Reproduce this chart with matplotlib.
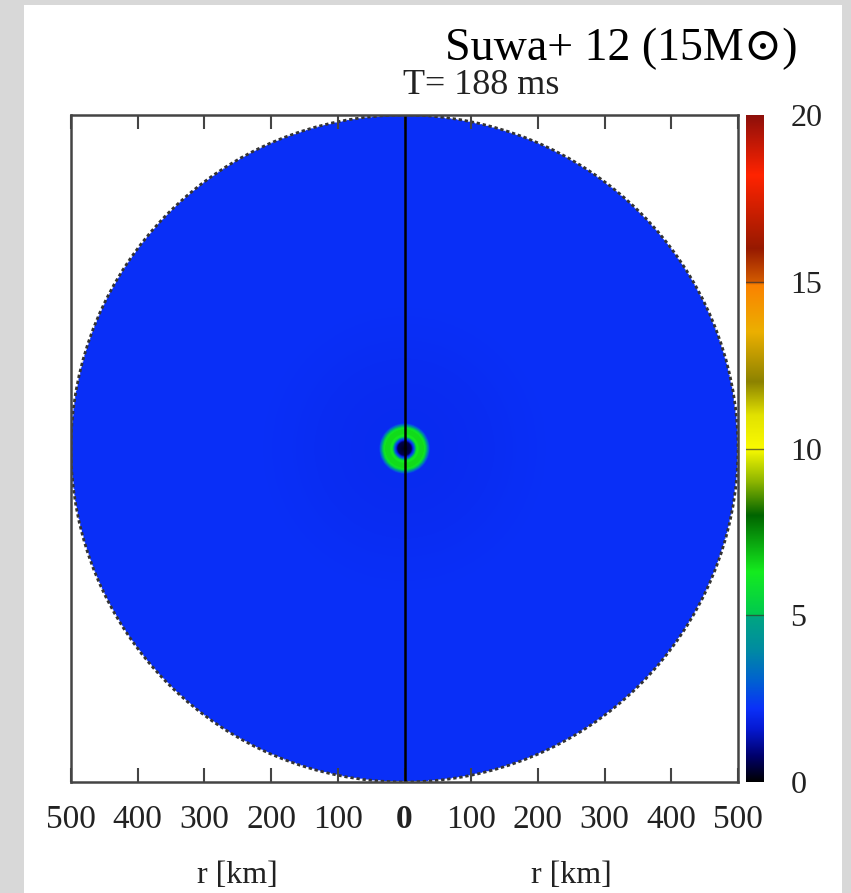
import numpy as np
import matplotlib
matplotlib.use('Agg')
import matplotlib.pyplot as plt
from matplotlib.colors import LinearSegmentedColormap
from matplotlib.patches import Circle, Rectangle

# radial profile of the entropy-like quantity (km -> value)
radius_km = [0, 10, 14, 18, 22, 29, 33, 38, 60, 120, 175, 230, 500]
profile_val = [0.2, 0.6, 2.6, 6.0, 6.5, 6.5, 5.0, 2.08, 2.08, 2.11, 2.16, 2.2, 2.2]
r_max = 500
time_ms = 188
x_ticks = [-500, -400, -300, -200, -100, 0, 100, 200, 300, 400, 500]
cbar_ticks = [0, 5, 10, 15, 20]
vmin, vmax = 0, 20

# gnuplot-like palette with breaks at 5, 10, 15
pal_pos = [0, 0.8, 1.6, 2.2, 3.0, 4.0, 4.95, 5.0, 6.3, 8.0, 9.0, 10.0,
           11.0, 12.0, 13.5, 14.9, 15.0, 16.0, 18.2, 20.0]
pal_rgb = [(0, 0, 0), (0, 0, 110), (5, 25, 210), (10, 48, 248), (0, 95, 210),
           (0, 140, 160), (0, 165, 130), (0, 200, 80), (20, 235, 30), (0, 100, 0),
           (140, 180, 0), (250, 250, 0), (225, 225, 0), (140, 130, 0), (235, 175, 0),
           (250, 130, 0), (210, 90, 0), (150, 25, 0), (255, 35, 0), (140, 15, 10)]
cmap = LinearSegmentedColormap.from_list(
    'pal', [(p / 20, tuple(c / 255 for c in rgb)) for p, rgb in zip(pal_pos, pal_rgb)], N=4096)
cmap.set_bad('white')

fig = plt.figure(figsize=(8.51, 8.93), dpi=100, facecolor='#d8d8d8')
fig.patches.append(Rectangle((24 / 851, 0), 818 / 851, 888 / 893, transform=fig.transFigure,
                             facecolor='white', edgecolor='none', zorder=-10))

ax = fig.add_axes([71 / 851, 111 / 893, 667 / 851, 667 / 893])
cax = fig.add_axes([746 / 851, 111 / 893, 18 / 851, 667 / 893])

xs = np.linspace(-r_max, r_max, 801)
X, Y = np.meshgrid(xs, xs)
R = np.hypot(X, Y)
field = np.interp(R, radius_km, profile_val)
field = np.ma.masked_where(R > r_max, field)

im = ax.imshow(field, origin='lower', extent=[-r_max, r_max, -r_max, r_max],
               cmap=cmap, vmin=vmin, vmax=vmax, interpolation='bilinear')
ax.add_patch(Circle((0, 0), r_max, fill=False, edgecolor='#333333', lw=2,
                    linestyle=(0, (1.2, 1.0))))
ax.axvline(0, color='black', lw=1.8)
ax.set_xlim(-r_max, r_max)
ax.set_ylim(-r_max, r_max)

serif = ['Liberation Serif', 'DejaVu Serif']
ax.set_xticks(x_ticks)
ax.set_xticklabels([str(abs(t)) for t in x_ticks], family=serif, fontsize=24)
for lab, t in zip(ax.get_xticklabels(), x_ticks):
    if t == 0:
        lab.set_fontweight('bold')
ax.set_yticks([])
ax.tick_params(axis='x', direction='in', length=10, width=1.5, color='#444444',
               top=True, bottom=True, pad=16, labelcolor='#222222')
for sp in ax.spines.values():
    sp.set_color('#444444')
    sp.set_linewidth(1.8)

for xr in (-250, 250):
    ax.text(xr, 0.02, 'r [km]', transform=ax.get_xaxis_transform().__class__(
        ax.transData, fig.transFigure), ha='center', va='center',
        family=serif, fontsize=23, color='#222222')

cb = fig.colorbar(im, cax=cax, ticks=cbar_ticks)
cb.outline.set_visible(False)
cax.tick_params(length=0, pad=19, labelsize=23, labelcolor='#222222')
for lab in cax.get_yticklabels():
    lab.set_family(serif)
for t in cbar_ticks[1:-1]:
    cax.axhline(t, color='#333333', lw=1, alpha=0.7)

fig.text(403 / 851, 1 - 94 / 893, 'T= %d ms' % time_ms, ha='left', va='baseline',
         family=serif, fontsize=26, color='#222222')
fig.text(445 / 851, 1 - 60 / 893, 'Suwa+ 12 (15M\u2299)', ha='left', va='baseline',
         family=serif, fontsize=33, color='black')

fig.savefig('out.png', dpi=100, facecolor=fig.get_facecolor())
